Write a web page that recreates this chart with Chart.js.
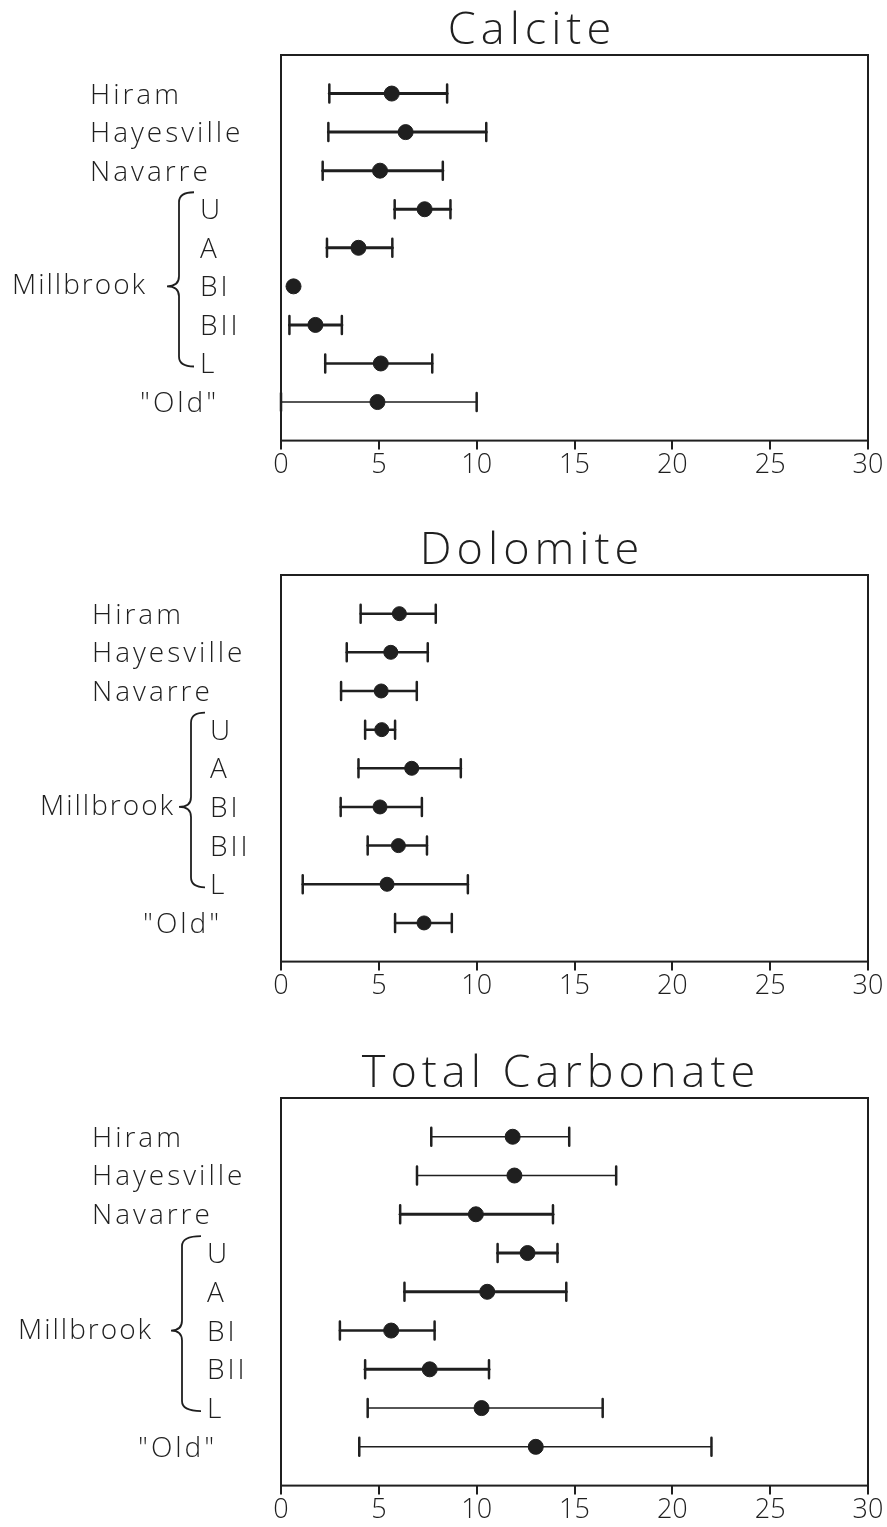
<!DOCTYPE html>
<html><head><meta charset="utf-8">
<script src="https://cdn.jsdelivr.net/npm/chart.js@4.4.1/dist/chart.umd.min.js"></script>
<style>
html,body{margin:0;padding:0;background:#fff;}
#wrap{position:relative;width:887px;height:1527px;overflow:hidden;background:#fff;}
canvas{position:absolute;left:0;}
</style></head><body>
<div id="wrap">
<canvas id="c1" width="887" height="500" style="top:0px"></canvas>
<canvas id="c2" width="887" height="500" style="top:520px"></canvas>
<canvas id="c3" width="887" height="484" style="top:1043px"></canvas>
</div>
<script>
// ---- data ----
const categories = ['Hiram', 'Hayesville', 'Navarre', 'U', 'A', 'BI', 'BII', 'L', '"Old"'];
const groupName = 'Millbrook';
const groupMembers = ['U', 'A', 'BI', 'BII', 'L'];
const xTicks = [0, 5, 10, 15, 20, 25, 30];
const titles = ['Calcite', 'Dolomite', 'Total Carbonate'];

const calciteMean = [5.66, 6.37, 5.06, 7.34, 3.96, 0.64, 1.76, 5.10, 4.93];
const calciteMin  = [2.47, 2.42, 2.13, 5.81, 2.35, null, 0.43, 2.26, 0.00];
const calciteMax  = [8.49, 10.49, 8.27, 8.66, 5.69, null, 3.11, 7.73, 10.00];

const dolomiteMean = [6.05, 5.61, 5.12, 5.15, 6.68, 5.06, 6.00, 5.42, 7.31];
const dolomiteMin  = [4.07, 3.36, 3.07, 4.30, 3.96, 3.05, 4.43, 1.11, 5.83];
const dolomiteMax  = [7.91, 7.50, 6.94, 5.83, 9.19, 7.20, 7.46, 9.55, 8.73];

const totalMean = [11.84, 11.93, 9.96, 12.60, 10.54, 5.63, 7.60, 10.25, 13.02];
const totalMin  = [7.68, 6.95, 6.09, 11.07, 6.31, 3.01, 4.30, 4.43, 4.00];
const totalMax  = [14.73, 17.13, 13.90, 14.13, 14.58, 7.85, 10.63, 16.44, 22.00];

// ---- styles / layout (not data) ----
const INK = '#1f1f1f';
const FONT = '"Open Sans", "DejaVu Sans", sans-serif';
const panels = [
  { id: 'c1', title: titles[0], mean: calciteMean, min: calciteMin, max: calciteMax,
    lw: [3, 3, 3, 3, 3, 3, 3, 2.5, 1.5], r: 7.5, padBottom: 18,
    titleX: 532, mainX: 90, subX: 200, oldX: 140, millX: 12, brace: [167, 179, 194] },
  { id: 'c2', title: titles[1], mean: dolomiteMean, min: dolomiteMin, max: dolomiteMax,
    lw: [2.5, 2.5, 2.5, 2.5, 2.5, 2.5, 2.5, 2.5, 2.5], r: 7, padBottom: 17,
    titleX: 532, mainX: 92, subX: 210, oldX: 143, millX: 40, brace: [179, 191, 205] },
  { id: 'c3', title: titles[2], mean: totalMean, min: totalMin, max: totalMax,
    lw: [1.5, 1.5, 3, 3, 3, 2.5, 3, 1.5, 1.5], r: 7.5, padBottom: 0,
    titleX: 561, mainX: 92, subX: 207, oldX: 138, millX: 18, brace: [171, 182, 201] }
];

const decor = {
  id: 'decor',
  beforeDatasetsDraw(chart) {
    const p = chart.options.plugins.decor;
    const ctx = chart.ctx, xs = chart.scales.x, ys = chart.scales.y;
    ctx.save();
    ctx.strokeStyle = INK;
    ctx.lineCap = 'round';
    p.min.forEach((lo, i) => {
      const hi = p.max[i];
      if (lo === null || hi === null) return;
      const y = ys.getPixelForValue(i + 1);
      const x1 = xs.getPixelForValue(lo), x2 = xs.getPixelForValue(hi);
      ctx.lineWidth = p.lw[i];
      ctx.beginPath(); ctx.moveTo(x1, y); ctx.lineTo(x2, y); ctx.stroke();
      ctx.lineWidth = 2.5;
      ctx.beginPath();
      ctx.moveTo(x1, y - 9); ctx.lineTo(x1, y + 9);
      ctx.moveTo(x2, y - 9); ctx.lineTo(x2, y + 9);
      ctx.stroke();
    });
    ctx.restore();
  },
  afterDraw(chart) {
    const p = chart.options.plugins.decor;
    const ctx = chart.ctx, a = chart.chartArea, ys = chart.scales.y;
    ctx.save();
    ctx.strokeStyle = INK; ctx.fillStyle = INK;
    ctx.lineWidth = 2;
    ctx.strokeRect(a.left, a.top, a.right - a.left, a.bottom - a.top);
    // title
    ctx.font = '300 45px ' + FONT;
    ctx.letterSpacing = '5px';
    ctx.textAlign = 'center'; ctx.textBaseline = 'middle';
    ctx.fillText(p.title, p.titleX, a.top - 24);
    // category labels
    ctx.font = '300 28px ' + FONT;
    ctx.letterSpacing = '3px';
    ctx.textAlign = 'left';
    categories.forEach((c, i) => {
      const y = ys.getPixelForValue(i + 1);
      let x = p.mainX;
      if (groupMembers.includes(c)) x = p.subX;
      else if (i === categories.length - 1) x = p.oldX;
      ctx.fillText(c, x, y + 2);
    });
    // group label + brace
    const firstIdx = categories.indexOf(groupMembers[0]);
    const lastIdx = categories.indexOf(groupMembers[groupMembers.length - 1]);
    const midIdx = categories.indexOf('BI');
    const yTop = ys.getPixelForValue(firstIdx + 1) - 17;
    const yBot = ys.getPixelForValue(lastIdx + 1) + 3;
    const yMid = ys.getPixelForValue(midIdx + 1);
    ctx.letterSpacing = '2px';
    ctx.fillText(groupName, p.millX, yMid);
    const [xt, xsp, xe] = p.brace;
    const r = 10;
    ctx.lineWidth = 1.8;
    ctx.beginPath();
    ctx.moveTo(xe, yTop);
    ctx.quadraticCurveTo(xsp, yTop, xsp, yTop + r);
    ctx.lineTo(xsp, yMid - r);
    ctx.quadraticCurveTo(xsp, yMid, xt, yMid);
    ctx.quadraticCurveTo(xsp, yMid, xsp, yMid + r);
    ctx.lineTo(xsp, yBot - r);
    ctx.quadraticCurveTo(xsp, yBot, xe, yBot);
    ctx.stroke();
    ctx.restore();
  }
};

panels.forEach(p => {
  const ctx = document.getElementById(p.id);
  new Chart(ctx, {
    type: 'scatter',
    data: {
      datasets: [{
        label: p.title,
        data: p.mean.map((v, i) => ({ x: v, y: i + 1 })),
        pointRadius: p.r,
        pointHoverRadius: p.r,
        pointBackgroundColor: INK,
        pointBorderColor: INK,
        pointBorderWidth: 1
      }]
    },
    options: {
      responsive: false,
      animation: false,
      events: [],
      layout: { padding: { left: 281, right: 19, top: 55, bottom: p.padBottom } },
      plugins: {
        legend: { display: false },
        tooltip: { enabled: false },
        title: { display: false },
        decor: p
      },
      scales: {
        x: {
          type: 'linear', min: 0, max: 30,
          afterBuildTicks: s => { s.ticks = xTicks.map(v => ({ value: v })); },
          grid: { drawOnChartArea: false, drawTicks: true, tickLength: 9, color: INK, lineWidth: 2 },
          border: { display: false },
          ticks: { color: INK, padding: 0, font: { family: FONT, size: 27, weight: 300 } }
        },
        y: { type: 'linear', display: false, reverse: true, min: 0, max: 10 }
      }
    },
    plugins: [decor]
  });
});
</script>
</body></html>
